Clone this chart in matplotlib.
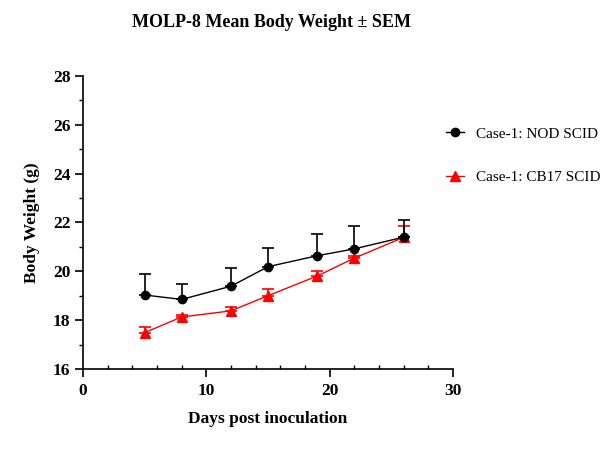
import matplotlib
matplotlib.use("Agg")
import matplotlib.pyplot as plt
import numpy as np
from matplotlib.ticker import MultipleLocator
from matplotlib.lines import Line2D

plt.rcParams['font.family'] = ['Liberation Serif', 'DejaVu Serif']

days = [5, 8, 12, 15, 19, 22, 26]
nod_mean = [19.03, 18.85, 19.39, 20.19, 20.64, 20.92, 21.40]
nod_sem = [0.85, 0.62, 0.73, 0.75, 0.89, 0.94, 0.69]
cb17_mean = [17.49, 18.13, 18.38, 19.00, 19.81, 20.54, 21.39]
cb17_sem = [0.22, 0.08, 0.15, 0.27, 0.19, 0.08, 0.47]

title = "MOLP-8 Mean Body Weight \u00b1 SEM"
xlabel = "Days post inoculation"
ylabel = "Body Weight (g)"
labels = ["Case-1: NOD SCID", "Case-1: CB17 SCID"]

fig = plt.figure(figsize=(6.09, 4.62), dpi=100)
ax = fig.add_axes([0.1363, 0.2013, 0.6075, 0.6342])

zeros = np.zeros(len(days))
ax.errorbar(days, nod_mean, yerr=[zeros, nod_sem], color='black', marker='o',
            markersize=6, linewidth=1, elinewidth=1.2, capsize=4, capthick=1.2,
            zorder=3)
ax.errorbar(days, cb17_mean, yerr=[zeros, cb17_sem], color='red', marker='^',
            markersize=6.5, linewidth=1, elinewidth=1.2, capsize=4, capthick=1.2,
            zorder=2)

ax.set_xlim(0, 30)
ax.set_ylim(16, 28)
ax.xaxis.set_major_locator(MultipleLocator(10))
ax.xaxis.set_minor_locator(MultipleLocator(2))
ax.yaxis.set_major_locator(MultipleLocator(2))
ax.yaxis.set_minor_locator(MultipleLocator(1))
ax.spines['top'].set_visible(False)
ax.spines['right'].set_visible(False)
for s in ['left', 'bottom']:
    ax.spines[s].set_linewidth(1.2)
ax.tick_params(axis='x', which='major', direction='out', length=6, width=1.2, pad=4)
ax.tick_params(axis='x', which='minor', direction='in', length=3, width=1.0)
ax.tick_params(axis='y', which='major', direction='out', length=6, width=1.2, pad=3)
ax.tick_params(axis='y', which='minor', direction='out', length=3, width=1.0)
for lab in ax.get_xticklabels() + ax.get_yticklabels():
    lab.set_fontweight('bold')
    lab.set_fontsize(12.5)

fig.text(0.445, 0.952, title, ha='center', va='center', fontsize=13, fontweight='bold')
ax.set_xlabel(xlabel, fontsize=12.5, fontweight='bold', labelpad=9)
ax.set_ylabel(ylabel, fontsize=12.5, fontweight='bold', labelpad=9)

handles = [
    Line2D([], [], color='black', marker='o', markersize=6, linewidth=1),
    Line2D([], [], color='red', marker='^', markersize=6.5, linewidth=1),
]
fig.legend(handles, labels, loc='upper left', bbox_to_anchor=(0.71, 0.755), frameon=False,
           fontsize=11, handlelength=1.2, labelspacing=1.95, handletextpad=0.75)

fig.savefig("out.png", dpi=100)
